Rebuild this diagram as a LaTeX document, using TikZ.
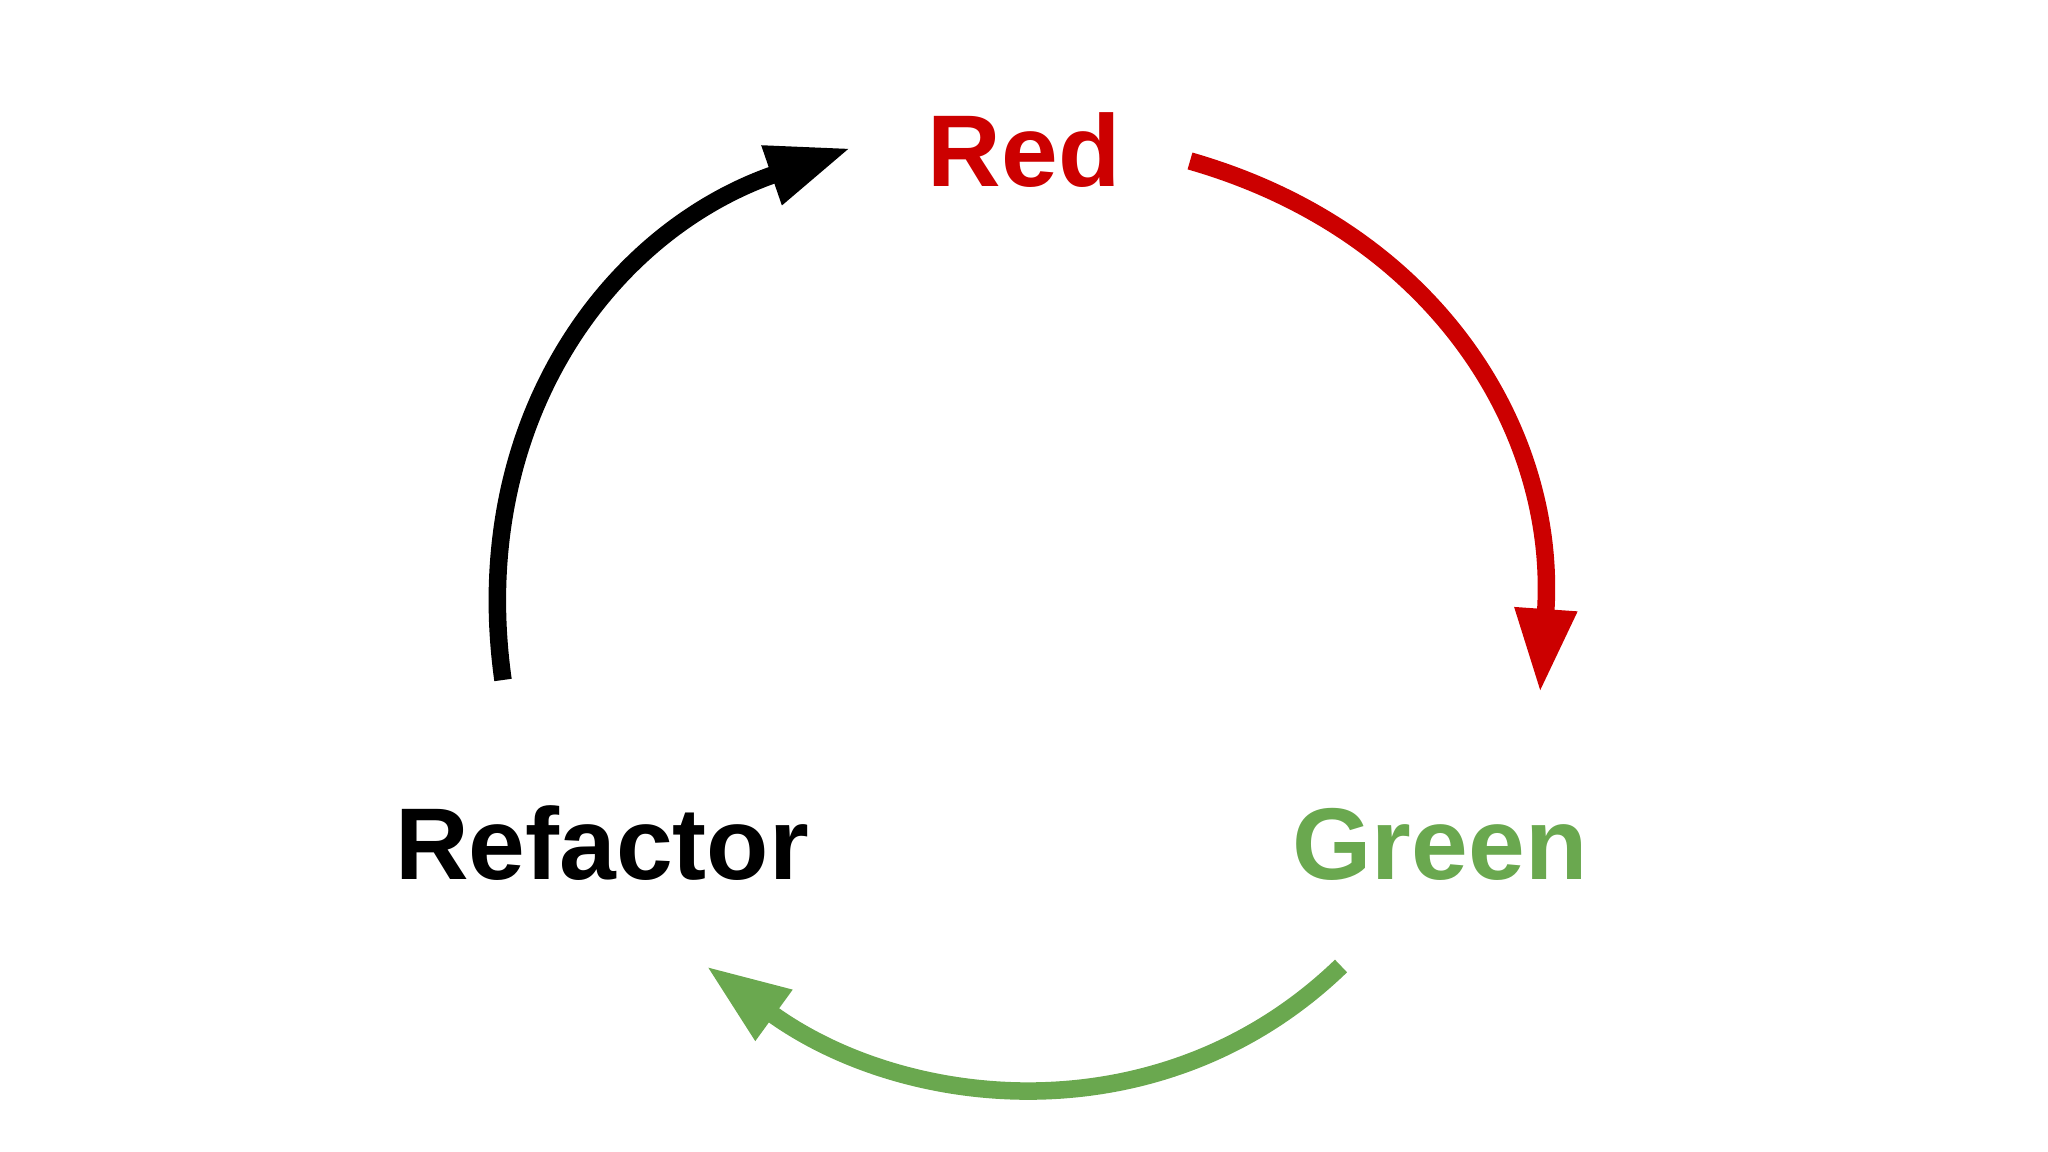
\documentclass[tikz,border=0pt]{standalone}
\usepackage{fontspec}
\setmainfont{Liberation Sans}
\usetikzlibrary{arrows.meta}
\definecolor{tddred}{HTML}{CC0000}
\definecolor{tddgreen}{HTML}{6AA84F}

\begin{document}
\begin{tikzpicture}[x=0.01cm, y=0.01cm,
		phase/.style={font=\fontsize{29}{34}\selectfont\bfseries, anchor=base, inner sep=0pt},
		cyclearrow/.style={line width=1.75mm, -{Triangle[length=8.4mm, width=5.8mm]}}]
	\useasboundingbox (0,0) rectangle (2048,1152);
	\node[phase, text=tddred] (red) at (1024,965) {Red};
	\node[phase, text=tddgreen] (green) at (1440,272) {Green};
	\node[phase] (refactor) at (602,272) {Refactor};
	\coordinate (r1) at (1190,991); \coordinate (r2) at (1540,459);
	\coordinate (g1) at (1341,186); \coordinate (g2) at (706,186);
	\coordinate (b1) at (503,472); \coordinate (b2) at (851,1004);
	\draw[cyclearrow, tddred] (r1) to[out=-16, in=86, looseness=1.04] (r2);
	\draw[cyclearrow, tddgreen] (g1) to[out=224, in=-36] (g2);
	\draw[cyclearrow] (b1) to[out=98, in=199, looseness=1.04] (b2);
\end{tikzpicture}
\end{document}
